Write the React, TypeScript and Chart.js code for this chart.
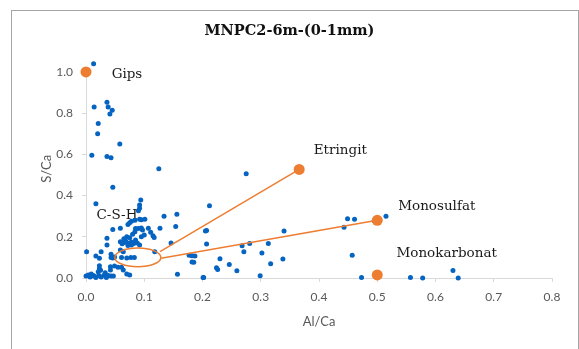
import React, { useEffect, useRef } from "react";
import { Chart, registerables } from "chart.js";

Chart.register(...registerables);

const chartTitle = "MNPC2-6m-(0-1mm)";
const xAxisTitle = "Al/Ca";
const yAxisTitle = "S/Ca";

const xTicks = [0, 0.1, 0.2, 0.3, 0.4, 0.5, 0.6, 0.7, 0.8];
const yTicks = [0, 0.2, 0.4, 0.6, 0.8, 1.0];
const yAxisTop = 1.06; // room above the last tick for points slightly over 1.0

// measured sample points (EDX)
const sampleAlCa = [
  0.013, 0.014, 0.036, 0.038, 0.045, 0.041, 0.021, 0.020, 0.058, 0.010, 0.036, 0.043, 0.125, 0.275,
  0.046, 0.017, 0.094, 0.092, 0.092, 0.090, 0.212, 0.156, 0.134, 0.101, 0.095, 0.092, 0.084,
  0.046, 0.059, 0.072, 0.075, 0.078, 0.085, 0.090, 0.095, 0.084, 0.080, 0.097, 0.107, 0.111, 0.115, 0.117, 0.127, 0.154,
  0.065, 0.068, 0.072, 0.075, 0.078, 0.082, 0.085, 0.088, 0.078, 0.072, 0.066, 0.062, 0.070, 0.075,
  0.036, 0.036, 0.059, 0.095, 0.100, 0.146, 0.092,
  0.059, 0.064, 0.118, 0.043, 0.001, 0.026,
  0.043, 0.046, 0.049, 0.061, 0.070, 0.077, 0.083, 0.017, 0.023,
  0.023, 0.023, 0.025, 0.042, 0.042, 0.049, 0.055, 0.061, 0.064,
  0.157, 0.202, 0.177, 0.185, 0.187, 0.182, 0.182, 0.205, 0.207, 0.207, 0.230, 0.226, 0.224, 0.246, 0.259, 0.201,
  0.268, 0.271, 0.281, 0.313, 0.302, 0.338, 0.317, 0.299, 0.340,
  0.443, 0.449, 0.461, 0.515, 0.495, 0.457, 0.473, 0.557, 0.578, 0.630, 0.639,
  0.000, 0.004, 0.007, 0.012, 0.017, 0.022, 0.026, 0.031, 0.035, 0.038, 0.043, 0.033, 0.021, 0.014, 0.009,
  0.047, 0.070, 0.075,
];
const sampleSCa = [
  1.040, 0.830, 0.853, 0.830, 0.814, 0.796, 0.750, 0.700, 0.650, 0.596, 0.590, 0.584, 0.530, 0.506,
  0.440, 0.360, 0.379, 0.354, 0.338, 0.327, 0.351, 0.310, 0.300, 0.285, 0.283, 0.285, 0.280,
  0.236, 0.241, 0.260, 0.268, 0.275, 0.240, 0.240, 0.243, 0.225, 0.212, 0.233, 0.241, 0.222, 0.205, 0.196, 0.241, 0.250,
  0.190, 0.180, 0.170, 0.165, 0.175, 0.168, 0.185, 0.170, 0.160, 0.158, 0.172, 0.166, 0.200, 0.195,
  0.193, 0.160, 0.176, 0.200, 0.209, 0.170, 0.160,
  0.136, 0.128, 0.128, 0.115, 0.128, 0.128,
  0.100, 0.097, 0.102, 0.100, 0.097, 0.100, 0.100, 0.107, 0.096,
  0.060, 0.045, 0.038, 0.055, 0.039, 0.058, 0.052, 0.052, 0.039,
  0.018, 0.003, 0.110, 0.076, 0.107, 0.108, 0.078, 0.228, 0.230, 0.165, 0.094, 0.041, 0.050, 0.066, 0.035, 0.002,
  0.157, 0.128, 0.168, 0.168, 0.121, 0.092, 0.069, 0.011, 0.228,
  0.246, 0.288, 0.285, 0.300, 0.277, 0.110, 0.002, 0.003, 0.000, 0.037, 0.000,
  0.010, 0.015, 0.005, 0.012, 0.003, 0.012, 0.005, 0.013, 0.003, 0.012, 0.010, 0.025, 0.030, 0.010, 0.020,
  0.010, 0.020, 0.015,
];

// reference phases
const phaseNames = ["Gips", "Etringit", "Monosulfat", "Monokarbonat"];
const phaseAlCa = [0.0, 0.366, 0.5, 0.5];
const phaseSCa = [1.0, 0.527, 0.28, 0.015];
// label anchors (data units, left-aligned text)
const labelAlCa = [0.044, 0.391, 0.536, 0.533];
const labelSCa = [0.989, 0.621, 0.346, 0.12];

// C-S-H annotation
const cshLabel = "C-S-H";
const cshLabelAlCa = 0.018;
const cshLabelSCa = 0.302;
const cshCenterAlCa = 0.089;
const cshCenterSCa = 0.1;
const cshRadiusAlCa = 0.0395;
const cshRadiusSCa = 0.045;

// tie lines from the C-S-H ellipse to phases
const tieStartAlCa = [0.127, 0.129];
const tieStartSCa = [0.128, 0.096];
const tieEndPhase = [1, 2];

const BLUE = "#0563C1";
const ORANGE = "#ED7D31";
const AXIS_GRAY = "#d9d9d9";
const TEXT_GRAY = "#595959";
const SERIF = "'DejaVu Serif', serif";
const SANS = "Lato, 'Liberation Sans', sans-serif";

const annotationPlugin = {
  id: "phaseAnnotations",
  beforeDatasetsDraw(chart: any) {
    const { ctx, scales } = chart;
    const xs = scales.x;
    const ys = scales.y;
    ctx.save();
    // y axis line from 0 to the last tick
    ctx.strokeStyle = AXIS_GRAY;
    ctx.lineWidth = 1;
    const ax = Math.round(xs.getPixelForValue(xTicks[0])) + 0.5;
    ctx.beginPath();
    ctx.moveTo(ax, ys.getPixelForValue(yTicks[0]));
    ctx.lineTo(ax, ys.getPixelForValue(yTicks[yTicks.length - 1]));
    ctx.stroke();

    ctx.fillStyle = "#1a1a1a";
    ctx.font = `13.5px ${SERIF}`;
    ctx.textAlign = "left";
    ctx.textBaseline = "middle";
    phaseNames.forEach((name, i) => {
      ctx.fillText(name, xs.getPixelForValue(labelAlCa[i]), ys.getPixelForValue(labelSCa[i]));
    });
    ctx.fillText(cshLabel, xs.getPixelForValue(cshLabelAlCa), ys.getPixelForValue(cshLabelSCa));
    ctx.restore();
  },
  afterDatasetsDraw(chart: any) {
    const { ctx, scales } = chart;
    const xs = scales.x;
    const ys = scales.y;
    const cx = xs.getPixelForValue(cshCenterAlCa);
    const cy = ys.getPixelForValue(cshCenterSCa);
    const rx = Math.abs(xs.getPixelForValue(cshCenterAlCa + cshRadiusAlCa) - cx);
    const ry = Math.abs(ys.getPixelForValue(cshCenterSCa + cshRadiusSCa) - cy);
    ctx.save();
    ctx.strokeStyle = ORANGE;
    ctx.lineWidth = 1.5;
    ctx.beginPath();
    ctx.ellipse(cx, cy, rx, ry, 0, 0, Math.PI * 2);
    ctx.stroke();
    ctx.restore();
  },
  afterDraw(chart: any) {
    const { ctx } = chart;
    ctx.save();
    ctx.fillStyle = "#111";
    ctx.font = `bold 14.5px ${SERIF}`;
    ctx.textAlign = "center";
    ctx.textBaseline = "middle";
    ctx.fillText(chartTitle, chart.width / 2, 31);
    ctx.restore();
  },
};

export default function App() {
  const canvasRef = useRef<HTMLCanvasElement | null>(null);

  useEffect(() => {
    const canvas = canvasRef.current;
    if (!canvas) return;

    const samples = sampleAlCa.map((x, i) => ({ x, y: sampleSCa[i] }));
    const phases = phaseAlCa.map((x, i) => ({ x, y: phaseSCa[i] }));
    const tieSets = tieStartAlCa.map((x, i) => ({
      type: "line" as const,
      data: [
        { x, y: tieStartSCa[i] },
        { x: phaseAlCa[tieEndPhase[i]], y: phaseSCa[tieEndPhase[i]] },
      ],
      borderColor: ORANGE,
      borderWidth: 1.5,
      pointRadius: 0,
      showLine: true,
      fill: false,
      clip: false as any,
      order: 1,
    }));

    const chart = new Chart(canvas, {
      type: "scatter",
      data: {
        datasets: [
          {
            type: "scatter",
            data: phases,
            backgroundColor: ORANGE,
            borderColor: ORANGE,
            pointRadius: 5.5,
            pointBorderWidth: 0,
            clip: false as any,
            order: 0,
          },
          ...tieSets,
          {
            type: "scatter",
            data: samples,
            backgroundColor: BLUE,
            borderColor: BLUE,
            pointRadius: 2.5,
            pointBorderWidth: 0,
            clip: false as any,
            order: 2,
          },
        ] as any,
      },
      options: {
        responsive: false,
        animation: false,
        devicePixelRatio: 1,
        layout: { padding: { left: 0, right: 27, top: 59.6, bottom: 0 } },
        plugins: {
          legend: { display: false },
          tooltip: { enabled: false },
          title: { display: false },
        },
        scales: {
          x: {
            type: "linear",
            min: xTicks[0],
            max: xTicks[xTicks.length - 1],
            afterBuildTicks: (scale: any) => {
              scale.ticks = xTicks.map((v) => ({ value: v }));
            },
            afterFit: (scale: any) => {
              scale.height = 71;
            },
            ticks: {
              callback: (v: any) => Number(v).toFixed(1),
              color: TEXT_GRAY,
              font: { family: SANS, size: 12 },
              padding: 8,
              maxRotation: 0,
            },
            grid: {
              drawOnChartArea: false,
              drawTicks: true,
              tickLength: 4,
              color: AXIS_GRAY,
              tickColor: AXIS_GRAY,
            },
            border: { display: true, color: AXIS_GRAY, width: 1 },
            title: {
              display: true,
              text: xAxisTitle,
              color: TEXT_GRAY,
              font: { family: SANS, size: 13 },
              padding: { top: 4, bottom: 19 },
            },
          },
          y: {
            type: "linear",
            min: yTicks[0],
            max: yAxisTop,
            afterBuildTicks: (scale: any) => {
              scale.ticks = yTicks.map((v) => ({ value: v }));
            },
            afterFit: (scale: any) => {
              scale.width = 86;
            },
            ticks: {
              callback: (v: any) => Number(v).toFixed(1),
              color: TEXT_GRAY,
              font: { family: SANS, size: 12 },
              padding: 9,
            },
            grid: {
              drawOnChartArea: false,
              drawTicks: true,
              tickLength: 4,
              color: AXIS_GRAY,
              tickColor: AXIS_GRAY,
            },
            border: { display: false },
            title: {
              display: true,
              text: yAxisTitle,
              color: TEXT_GRAY,
              font: { family: SANS, size: 13 },
              padding: { top: 39, bottom: 4 },
            },
          },
        },
      },
      plugins: [annotationPlugin],
    });

    return () => chart.destroy();
  }, []);

  return (
    <div style={{ position: "absolute", left: 0, top: 0, width: 579, height: 349, overflow: "hidden", background: "#fff" }}>
      <div
        style={{
          position: "absolute",
          left: 11,
          top: 10,
          width: 566,
          height: 360,
          border: "1px solid #a6a6a6",
        }}
      />
      <canvas ref={canvasRef} width={579} height={349} style={{ position: "absolute", left: 0, top: 0 }} />
    </div>
  );
}
